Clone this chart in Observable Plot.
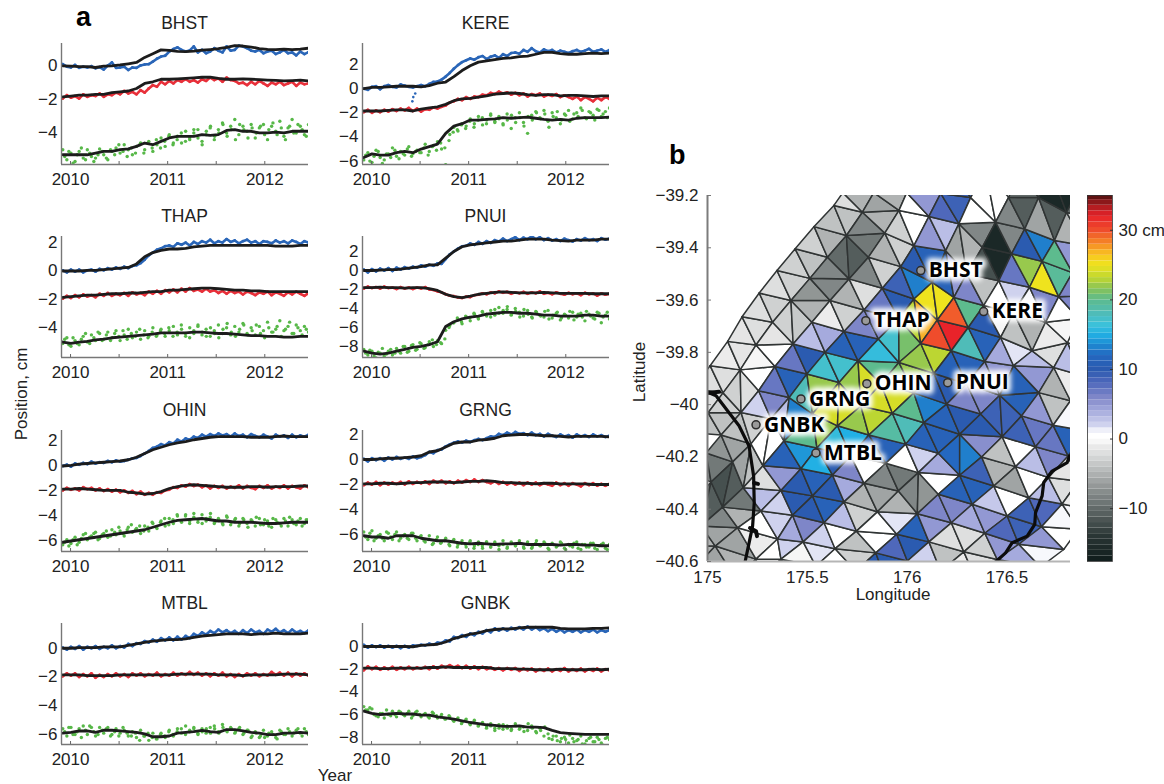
<!DOCTYPE html>
<html>
<head>
<meta charset="utf-8">
<script src="https://cdn.jsdelivr.net/npm/d3@7"></script>
<script src="https://cdn.jsdelivr.net/npm/@observablehq/plot@0.6"></script>
<style>
html,body{margin:0;padding:0;background:#fff;}
#page{position:relative;width:1164px;height:784px;overflow:hidden;font-family:"Liberation Sans",Arial,sans-serif;color:#222;}
#page svg{position:absolute;background:transparent;overflow:visible;}
.lbl{position:absolute;white-space:nowrap;font-size:17px;line-height:18px;}
.halo text{filter:blur(2.4px);}
.mesh path{filter:blur(0.35px);}
</style>
</head>
<body>
<div id="page"></div>
<script>
const stations = ["BHST","KERE","THAP","PNUI","OHIN","GRNG","MTBL","GNBK"];
const yDomains = [[-5.88,1.33],[-6.28,3.74],[-6.09,2.43],[-9.16,3.58],[-6.84,2.84],[-7.36,2.32],[-6.69,1.72],[-8.64,2.03]];
const yTicks = [[0,-2,-4],[2,0,-2,-4,-6],[2,0,-2,-4],[2,0,-2,-4,-6,-8],[2,0,-2,-4,-6],[2,0,-2,-4,-6],[0,-2,-4,-6],[0,-2,-4,-6,-8]];
const xTicks = [2010,2010.5,2011,2011.5,2012];

// black smoothed lines, roughly monthly, Dec 2009 - Jun 2012
const bhstBlueLine=[0,-.02,-.05,-.05,-.1,-.02,0,.05,.12,.2,.5,.72,.95,.92,.86,.85,.88,.93,.97,1.02,1.1,1.2,1.18,1.12,1.03,.98,.97,1,.97,1,1.05];
const bhstRedLine=[-1.85,-1.8,-1.75,-1.75,-1.7,-1.7,-1.6,-1.55,-1.5,-1.35,-1.05,-.95,-.8,-.8,-.78,-.75,-.72,-.68,-.68,-.75,-.8,-.8,-.78,-.8,-.82,-.85,-.87,-.9,-.88,-.85,-.9];
const bhstGreenLine=[-5.3,-5.3,-5.3,-5.3,-5.2,-5.1,-5.1,-5,-4.95,-4.8,-4.6,-4.7,-4.5,-4.3,-4.2,-4.2,-4.2,-4.1,-4.15,-4.1,-3.85,-3.8,-3.9,-3.9,-4,-4,-3.95,-4,-3.9,-3.9,-3.9];
const kereBlueLine=[0,.1,.1,.15,.2,.2,.2,.15,.25,.45,.55,1,1.5,1.9,2.2,2.3,2.4,2.5,2.55,2.65,2.7,2.85,3,3,2.9,2.85,2.85,2.9,2.95,2.9,2.95];
const kereRedLine=[-1.85,-1.85,-1.85,-1.8,-1.75,-1.75,-1.85,-1.7,-1.6,-1.5,-1.3,-1,-.85,-.8,-.7,-.6,-.45,-.4,-.35,-.4,-.5,-.55,-.5,-.5,-.6,-.55,-.55,-.6,-.65,-.6,-.6];
const kereGreenLine=[-5.7,-5.4,-5.5,-5.5,-5.3,-5.2,-5.3,-5,-4.8,-4.6,-3.7,-3.1,-2.9,-2.6,-2.6,-2.55,-2.5,-2.4,-2.45,-2.4,-2.35,-2.45,-2.55,-2.6,-2.55,-2.6,-2.45,-2.4,-2.4,-2.4,-2.35];
const thapBlueLine=[0,0,0,.05,.05,.1,.15,.2,.25,.5,1,1.3,1.45,1.55,1.55,1.6,1.7,1.75,1.8,1.8,1.8,1.8,1.8,1.8,1.8,1.8,1.75,1.75,1.75,1.8,1.8];
const thapRedLine=[-1.85,-1.8,-1.75,-1.7,-1.7,-1.65,-1.6,-1.6,-1.55,-1.55,-1.5,-1.45,-1.45,-1.35,-1.35,-1.3,-1.25,-1.2,-1.2,-1.25,-1.3,-1.35,-1.35,-1.4,-1.4,-1.45,-1.45,-1.45,-1.45,-1.45,-1.45];
const thapGreenLine=[-5,-5.1,-5,-4.95,-4.85,-4.8,-4.7,-4.65,-4.6,-4.55,-4.5,-4.45,-4.35,-4.35,-4.35,-4.35,-4.3,-4.3,-4.35,-4.4,-4.4,-4.45,-4.5,-4.55,-4.55,-4.6,-4.6,-4.65,-4.65,-4.6,-4.6];
const pnuiBlueLine=[0,0,.05,.1,.1,.2,.3,.4,.6,.6,1.3,2,2.5,2.7,2.8,2.9,3,3.1,3.1,3.2,3.3,3.3,3.3,3.2,3.15,3.1,3.2,3.2,3.2,3.3,3.3];
const pnuiRedLine=[-1.8,-1.8,-1.75,-1.8,-1.8,-1.85,-1.8,-1.8,-1.9,-2.1,-2.5,-2.75,-2.85,-2.7,-2.5,-2.4,-2.3,-2.25,-2.3,-2.35,-2.35,-2.35,-2.3,-2.35,-2.4,-2.4,-2.4,-2.4,-2.45,-2.45,-2.45];
const pnuiGreenLine=[-8.5,-8.7,-8.8,-8.7,-8.5,-8.3,-8.1,-8,-7.8,-7.5,-5.9,-5.4,-5.1,-4.9,-4.8,-4.6,-4.5,-4.4,-4.4,-4.5,-4.5,-4.6,-4.7,-4.7,-4.8,-4.8,-4.8,-4.7,-4.7,-4.8,-4.8];
const ohinBlueLine=[0,.05,.15,.2,.25,.3,.35,.4,.5,.7,1,1.3,1.5,1.7,1.85,1.95,2.1,2.2,2.3,2.35,2.35,2.35,2.35,2.3,2.3,2.3,2.35,2.4,2.35,2.35,2.35];
const ohinRedLine=[-1.85,-1.85,-1.8,-1.85,-1.9,-1.95,-1.95,-1.95,-2.1,-2.15,-2.25,-2.2,-2.05,-1.8,-1.65,-1.55,-1.5,-1.55,-1.6,-1.65,-1.7,-1.7,-1.7,-1.65,-1.65,-1.7,-1.65,-1.65,-1.65,-1.6,-1.6];
const ohinGreenLine=[-6.1,-6,-5.9,-5.8,-5.7,-5.6,-5.5,-5.4,-5.3,-5.2,-5.1,-4.9,-4.7,-4.5,-4.35,-4.3,-4.25,-4.2,-4.3,-4.4,-4.4,-4.5,-4.5,-4.5,-4.55,-4.6,-4.6,-4.55,-4.5,-4.5,-4.5];
const grngBlueLine=[0,0,.05,.1,.1,.15,.2,.3,.6,.7,1,1.3,1.4,1.4,1.55,1.6,1.7,1.9,1.95,2,2,1.95,1.9,1.9,1.85,1.8,1.85,1.85,1.85,1.85,1.8];
const grngRedLine=[-1.95,-1.95,-1.9,-1.9,-1.95,-1.9,-1.85,-1.85,-1.8,-1.8,-1.8,-1.85,-1.8,-1.75,-1.75,-1.7,-1.75,-1.85,-1.85,-1.9,-1.9,-1.95,-1.9,-1.9,-1.95,-1.95,-1.95,-1.95,-2,-2,-2];
const grngGreenLine=[-6.1,-6.2,-6.2,-6.3,-6.1,-6.1,-6.1,-6.3,-6.4,-6.5,-6.5,-6.6,-6.7,-6.75,-6.7,-6.75,-6.8,-6.75,-6.75,-6.7,-6.8,-6.8,-6.8,-6.8,-6.85,-6.8,-6.8,-6.85,-6.85,-6.9,-6.9];
const mtblBlueLine=[0,0,.05,.05,.05,.1,.1,.1,.2,.3,.4,.5,.55,.6,.6,.65,.75,.85,.9,.95,1,1,1,.95,1,1,1.05,1,1,1,1.05];
const mtblRedLine=[-1.85,-1.85,-1.85,-1.9,-1.9,-1.9,-1.9,-1.85,-1.85,-1.85,-1.85,-1.85,-1.85,-1.85,-1.8,-1.8,-1.8,-1.8,-1.8,-1.85,-1.85,-1.85,-1.9,-1.85,-1.85,-1.85,-1.85,-1.8,-1.8,-1.8,-1.85];
const mtblGreenLine=[-5.9,-5.85,-5.75,-5.75,-5.85,-5.7,-5.7,-5.75,-5.8,-5.85,-5.95,-6.15,-6.15,-6.1,-5.9,-5.85,-5.8,-5.7,-5.8,-5.85,-5.65,-5.65,-5.75,-5.85,-5.9,-6,-6,-5.9,-5.9,-5.85,-5.9];
const gnbkBlueLine=[0,0,0,0,0,0,-.02,.1,.15,.2,.4,.7,.9,1.1,1.2,1.4,1.5,1.55,1.55,1.65,1.7,1.7,1.7,1.7,1.6,1.55,1.55,1.55,1.6,1.6,1.65];
const gnbkRedLine=[-1.9,-1.9,-1.95,-1.95,-1.9,-1.9,-1.9,-1.9,-1.85,-1.85,-1.8,-1.85,-1.85,-1.85,-1.85,-1.85,-1.95,-1.95,-1.95,-2,-2,-2.05,-2.05,-2.05,-2,-2.05,-2.05,-2.05,-2,-2.05,-2];
const gnbkGreenLine=[-5.7,-5.9,-6,-5.95,-5.9,-5.95,-5.95,-6.05,-6.05,-6.2,-6.3,-6.4,-6.55,-6.7,-6.8,-6.9,-6.95,-7.05,-7.05,-7,-7.1,-7.1,-7.15,-7.4,-7.6,-7.65,-7.7,-7.75,-7.75,-7.75,-7.75];

// daily position dots, sampled every two weeks or so
const bhstBlueDots=[.1,-.05,-.1,.05,-.12,-.05,-.1,-.02,-.15,-.08,-.22,.02,.2,-.12,-.1,-.05,-.25,-.1,-.12,.02,.08,.1,.25,.42,.55,.6,.85,1,1.1,.95,.85,.92,1.15,.8,.95,.75,.85,1.05,.9,.8,1.15,.9,.95,1.2,1.15,1.05,.9,.85,.95,.75,.85,.9,.7,.8,.95,.75,.8,.62,.85,.7,.82];
const bhstRedDots=[-1.95,-1.75,-1.9,-1.8,-1.95,-1.7,-1.85,-1.75,-1.8,-1.65,-1.85,-1.7,-1.75,-1.6,-1.7,-1.5,-1.65,-1.55,-1.7,-1.45,-1.6,-1.35,-1.15,-1.25,-.95,-1.1,-.9,-1.05,-.85,-.95,-.8,-.95,-.85,-1,-.8,-.9,-.7,-.85,-.75,-.95,-.7,-.85,-.9,-1.05,-1,-1.15,-.95,-1.1,-.9,-1.05,-1.2,-1,-1.1,-.95,-1.15,-1.05,-.95,-1.2,-1,-1.1,-1.05];
const bhstGreenDots=[-5,-5.6,-5.2,-5.7,-5.1,-5.5,-5,-5.4,-5.5,-4.95,-5.3,-5.6,-5.1,-4.9,-5.2,-4.7,-5,-5.3,-4.8,-4.6,-5,-4.5,-5.1,-4.7,-4.3,-4.8,-4.1,-4.6,-4.2,-4.6,-3.9,-4.4,-4,-3.8,-4.5,-4.1,-3.7,-4.4,-3.8,-3.4,-4,-3.6,-3.2,-4.1,-3.6,-3.9,-3.5,-4.3,-3.7,-3.5,-4.4,-3.6,-3.9,-3.3,-4.2,-3.7,-3.2,-4,-3.6,-4.1,-3.5];
const bhstGreenMore=[-5.4,-5.1,-5.8,-5.3,-4.9,-5.6,-5.2,-5.7,-5.3,-5.1,-5.5,-5,-5.3,-4.7,-5.1,-5.4,-4.9,-5.2,-4.7,-5.2,-4.6,-4.9,-4.4,-4.9,-4.5,-4.2,-4.7,-4.4,-4,-4.5,-4.3,-3.8,-4.3,-4.7,-3.9,-3.6,-4.2,-4,-3.5,-4.2,-3.8,-4.4,-3.5,-3.8,-4.3,-3.7,-4,-3.6,-4.1,-3.8,-3.4,-4.1,-3.7,-4.4,-3.6,-4,-3.5,-3.8,-4.2,-3.7];
const kereBlueDots=[0,-.1,.15,.2,-.05,.2,.3,.15,.1,.35,.25,.15,.1,.2,.3,.2,.4,.55,.6,.75,1,1.3,1.65,1.95,2.2,2.35,2.5,2.4,2.6,2.7,2.45,2.65,2.75,2.55,2.85,2.7,2.95,3,2.9,3.2,3.05,3.35,3.1,3,3.25,3.1,3.2,3,3.15,3.05,2.95,3.1,3.2,3.05,3.15,3.3,3.05,3.15,3.25,3.05,3.2];
const kereBlueStrays=[[2010.42,-1.05],[2010.43,-.7],[2010.45,-.4]];
const kereRedDots=[-1.95,-1.75,-2,-1.8,-1.95,-1.75,-1.9,-1.7,-1.85,-1.65,-1.8,-1.6,-1.85,-1.65,-1.9,-1.7,-1.75,-1.55,-1.65,-1.5,-1.4,-1.15,-1.05,-.85,-.95,-.7,-.85,-.65,-.7,-.5,-.55,-.35,-.45,-.25,-.4,-.3,-.5,-.35,-.55,-.4,-.65,-.45,-.55,-.4,-.65,-.5,-.6,-.45,-.7,-.55,-.7,-.85,-.65,-.95,-.7,-.85,-1.05,-.75,-.95,-.7,-.85];
const kereGreenDots=[-5.9,-5.3,-6.1,-5.1,-5.7,-5.9,-5.4,-4.9,-5.6,-5.2,-5.5,-4.8,-5.4,-5.1,-5.3,-4.6,-5.2,-4.7,-4.4,-5,-6.3,-3.8,-3.2,-3.5,-2.9,-3.1,-2.5,-2.9,-2.3,-3,-2.6,-2.1,-2.8,-2.3,-2.9,-2.1,-3.3,-2.4,-2,-2.8,-3.7,-2.2,-1.9,-2.4,-1.8,-2.7,-2,-2.4,-2.9,-2.1,-1.8,-2.5,-2,-1.6,-2.4,-1.9,-2.2,-1.7,-2.3,-1.9,-1.6];
const kereGreenMore=[-5.5,-6,-5.6,-5.2,-6.2,-5.4,-5.7,-5.1,-5.8,-5.4,-5,-5.6,-5.2,-5.3,-4.9,-5.5,-4.8,-5.1,-4.5,-4.9,-4.3,-3.6,-3.4,-3,-3.3,-2.7,-3.2,-2.6,-2.4,-2.9,-2.2,-2.7,-2.5,-3,-2.6,-2.2,-2.8,-2.4,-3.1,-2.3,-2.6,-2,-2.5,-2.1,-3.2,-2.3,-1.9,-2.6,-2.2,-2.7,-2.1,-2.3,-1.8,-2.5,-2,-2.6,-1.8,-2.1,-2.4,-1.8];
const thapBlueDots=[.05,-.1,.1,-.05,.1,-.1,.05,.1,-.05,.15,.05,.2,.1,.25,.15,.3,.2,.35,.4,.55,.8,1.1,1.3,1.5,1.6,1.75,1.8,1.7,1.95,1.85,2,1.8,2.05,1.9,2.1,2,2.2,1.95,2.1,2,2.25,2.05,2.15,1.95,2.1,2.2,2,2.1,1.9,2.1,2.05,1.95,2.15,2,2.1,1.95,2.15,2.05,1.9,2.1,2];
const thapRedDots=[-1.95,-1.75,-1.9,-1.7,-1.85,-1.65,-1.8,-1.7,-1.85,-1.6,-1.75,-1.55,-1.75,-1.6,-1.7,-1.55,-1.75,-1.5,-1.65,-1.55,-1.7,-1.45,-1.6,-1.4,-1.6,-1.35,-1.5,-1.3,-1.5,-1.25,-1.45,-1.2,-1.4,-1.3,-1.45,-1.25,-1.45,-1.35,-1.55,-1.4,-1.6,-1.4,-1.55,-1.45,-1.65,-1.45,-1.55,-1.7,-1.5,-1.6,-1.45,-1.7,-1.5,-1.6,-1.75,-1.5,-1.65,-1.45,-1.6,-1.75,-1.55];
const thapGreenDots=[-5.1,-4.7,-5.3,-4.9,-5.2,-4.6,-5,-4.5,-4.9,-4.4,-4.8,-4.3,-4.7,-4.2,-4.9,-4.5,-4.1,-4.7,-4.3,-4.8,-4.2,-4.6,-4,-4.5,-4.1,-4.6,-4.2,-3.9,-4.5,-4.1,-4.6,-4,-4.4,-3.9,-4.5,-4.1,-4.6,-4.2,-3.8,-4.4,-4,-4.5,-3.9,-4.3,-3.7,-4.4,-4,-4.5,-3.9,-4.2,-3.6,-4.3,-4.1,-3.5,-4.2,-3.9,-4.4,-3.8,-4.2,-3.9,-4.3];
const thapGreenMore=[-4.8,-5.2,-4.7,-5.1,-4.8,-4.4,-5.1,-4.7,-4.3,-4.9,-4.5,-4.9,-4.4,-4.6,-4.2,-4.8,-4.4,-4.6,-4.1,-4.5,-4.7,-4.3,-4.6,-4.2,-4.4,-4,-4.6,-4.3,-3.8,-4.4,-4.7,-4.2,-3.8,-4.3,-4.6,-4,-4.4,-4.7,-4.1,-3.7,-4.3,-4.6,-4.1,-3.8,-4.5,-4.2,-3.8,-4.4,-4.7,-4,-4.3,-3.9,-4.6,-4.1,-3.6,-4.4,-4,-4.5,-4.1,-3.7];
const pnuiBlueDots=[.1,-.2,.15,-.1,.2,0,.25,-.05,.3,.1,.35,.2,.4,.3,.55,.4,.6,.5,.75,.7,1.2,1.7,2,2.3,2.55,2.6,2.85,2.7,3,2.8,3.1,2.9,3.2,3.05,3.35,3.1,3.3,3.5,3.2,3.45,3.3,3.6,3.3,3.5,3.2,3.4,3.15,3.3,3.1,3.35,3.2,3.05,3.3,3.15,3.4,3.2,3.3,3.1,3.4,3.25,3.35];
const pnuiRedDots=[-1.9,-1.7,-1.85,-1.75,-1.9,-1.7,-1.85,-1.8,-1.95,-1.75,-1.9,-1.8,-1.95,-1.8,-1.9,-1.75,-2,-2.05,-2.2,-2.3,-2.5,-2.65,-2.7,-2.85,-2.9,-2.75,-2.8,-2.6,-2.55,-2.4,-2.5,-2.3,-2.4,-2.2,-2.35,-2.25,-2.45,-2.3,-2.4,-2.25,-2.45,-2.3,-2.4,-2.2,-2.45,-2.35,-2.5,-2.3,-2.45,-2.55,-2.35,-2.5,-2.4,-2.6,-2.35,-2.5,-2.4,-2.65,-2.4,-2.55,-2.45];
const pnuiGreenDots=[-8.3,-8.9,-8.5,-9.2,-8.7,-9,-8.5,-8.9,-8.2,-8.7,-8,-8.5,-7.8,-8.3,-7.7,-8.1,-7.5,-8,-7.4,-7.7,-6.3,-5.8,-5.5,-5.2,-5.6,-4.9,-5.3,-4.6,-5.1,-4.4,-4.8,-4.2,-4.7,-3.9,-4.5,-4.1,-4.7,-4,-4.4,-4.8,-4.2,-4.9,-4.3,-4.7,-4.9,-4.2,-5,-4.5,-5.2,-4.6,-5,-4.4,-4.9,-4.5,-5.3,-4.6,-5,-4.4,-5.5,-4.7,-5.1];
const pnuiGreenMore=[-8.7,-8.4,-9,-8.6,-8.2,-8.8,-8.3,-8.7,-8.5,-8,-8.6,-7.9,-8.4,-7.6,-8.2,-7.8,-7.3,-7.8,-7.6,-7.2,-6,-5.5,-5,-5.4,-4.8,-5,-4.5,-5,-4.3,-4.6,-4.9,-4.1,-4.5,-4.2,-3.8,-4.6,-4.3,-4.9,-4.1,-4.6,-5,-4.4,-4.8,-4.3,-5.1,-4.7,-4.4,-5,-4.7,-4.3,-5.2,-4.6,-4.9,-4.3,-4.8,-5.1,-4.5,-4.9,-4.4,-5];
const ohinBlueDots=[0,.1,-.05,.2,.1,.25,.15,.35,.2,.3,.25,.4,.3,.45,.35,.4,.5,.6,.65,.8,1,1.2,1.45,1.55,1.75,1.65,1.9,1.8,2.1,1.95,2.2,2.1,2.35,2.25,2.5,2.35,2.55,2.4,2.6,2.45,2.55,2.35,2.6,2.4,2.5,2.3,2.55,2.4,2.3,2.5,2.35,2.2,2.5,2.35,2.45,2.25,2.5,2.3,2.45,2.35,2.5];
const ohinRedDots=[-1.95,-1.75,-1.9,-1.8,-1.95,-1.7,-1.85,-1.75,-1.95,-1.8,-2,-1.85,-2.05,-1.9,-2.1,-1.95,-2.15,-2,-2.25,-2.05,-2.3,-2.15,-2.3,-2.1,-2.15,-1.95,-1.9,-1.7,-1.75,-1.55,-1.65,-1.45,-1.6,-1.5,-1.7,-1.55,-1.8,-1.6,-1.75,-1.6,-1.8,-1.65,-1.75,-1.55,-1.8,-1.6,-1.75,-1.85,-1.6,-1.75,-1.55,-1.8,-1.65,-1.75,-1.55,-1.8,-1.6,-1.7,-1.8,-1.55,-1.7];
const ohinGreenDots=[-6.3,-5.9,-6.2,-5.7,-6.1,-5.5,-5.9,-5.6,-5.3,-5.8,-5.4,-5.7,-5.1,-5.5,-5.2,-5.6,-4.9,-5.3,-5,-5.4,-4.8,-5.2,-4.6,-5,-4.4,-4.8,-4.2,-4.6,-4,-4.5,-3.9,-4.4,-4.1,-4.5,-3.9,-4.4,-4.1,-4.6,-4.2,-4.6,-4,-4.7,-4.3,-4.8,-4.2,-4.6,-4.3,-4.8,-4.2,-4.7,-4.4,-4.9,-4.3,-4.6,-4.2,-4.8,-4.3,-4.7,-4.2,-4.6,-4.3];
const ohinGreenMore=[-6.1,-6.4,-5.9,-6.3,-5.8,-5.4,-5.7,-5.4,-5.9,-5.5,-5.2,-5.6,-5.3,-4.9,-5.4,-5.1,-4.7,-5.1,-4.8,-5.2,-4.9,-4.5,-4.9,-4.5,-4.2,-4.7,-4.3,-3.9,-4.4,-4,-4.6,-3.8,-4.3,-4.6,-4.2,-3.8,-4.5,-4.3,-4.7,-4.1,-4.5,-4.2,-4.6,-4.3,-4.9,-4.4,-4.1,-4.7,-4.3,-4.8,-4.2,-4.5,-4.8,-4.4,-4.1,-4.6,-4.4,-4.8,-4.3,-4.5];
const grngBlueDots=[.05,-.15,.1,-.05,.1,-.1,.15,0,.2,.05,.15,.05,.25,.1,.2,.35,.6,.5,.75,.8,1.05,1.2,1.35,1.45,1.35,1.5,1.4,1.55,1.65,1.55,1.7,1.85,1.8,2.05,1.95,2.15,2,2.2,2.05,2.1,1.95,2.15,1.95,2.05,1.85,2.05,1.9,1.8,2,1.85,1.95,1.75,2,1.85,1.95,1.8,2,1.85,1.95,1.8,1.9];
const grngRedDots=[-2.05,-1.85,-2,-1.8,-2.05,-1.85,-2,-1.85,-1.95,-1.8,-2,-1.75,-1.95,-1.8,-1.9,-1.75,-1.95,-1.7,-1.85,-1.7,-1.9,-1.75,-1.9,-1.7,-1.85,-1.65,-1.8,-1.6,-1.8,-1.65,-1.8,-1.9,-1.75,-1.95,-1.8,-2,-1.85,-2,-1.85,-2.05,-1.85,-2,-1.85,-2.05,-1.9,-2,-2.1,-1.85,-2.05,-1.9,-2.1,-1.9,-2,-2.15,-1.9,-2.05,-1.9,-2.1,-1.95,-2.1,-1.95];
const grngGreenDots=[-5.8,-6.4,-5.7,-6.3,-6,-6.5,-5.9,-6.4,-5.8,-6.3,-6,-6.4,-5.9,-6.5,-6.1,-6.6,-6.1,-6.7,-6.2,-6.6,-6.3,-6.9,-6.4,-6.8,-6.5,-7,-6.5,-6.9,-6.6,-7.1,-6.6,-7,-6.7,-6.9,-6.5,-7.1,-6.6,-6.9,-6.5,-7,-6.6,-7.1,-6.7,-6.9,-6.6,-7.1,-6.7,-7,-6.6,-7.1,-6.8,-7,-6.6,-7.2,-6.8,-7,-6.7,-7.2,-6.8,-7.1,-6.8];
const grngGreenMore=[-6.2,-5.9,-6.5,-6.1,-6.3,-5.8,-6.2,-6,-6.5,-6.1,-6.3,-5.9,-6.3,-6.2,-6.5,-6.4,-6.8,-6.4,-6.7,-6.5,-6.8,-6.5,-7,-6.7,-6.8,-6.6,-7.1,-6.8,-6.9,-6.6,-7,-6.6,-7.2,-6.8,-7,-6.7,-6.9,-6.7,-7.1,-6.8,-7,-6.5,-6.9,-6.7,-7.2,-6.8,-6.9,-6.7,-7.2,-6.9,-6.7,-7.1,-6.8,-7,-6.7,-7.1,-6.9,-6.7,-7.2,-6.9];
const mtblBlueDots=[.05,-.1,.1,-.05,.15,-.1,.1,0,.15,-.05,.1,0,.2,0,.15,.05,.3,.15,.35,.3,.5,.4,.6,.45,.7,.55,.75,.55,.8,.6,.85,.7,1,.85,1.1,.95,1.2,1.05,1.3,1.1,1.25,1.05,1.2,1,1.25,1.05,1.3,1.1,1.2,1,1.3,1.15,1.35,1.1,1.25,1.05,1.3,1.1,1.2,1.05,1.25];
const mtblRedDots=[-1.95,-1.75,-1.9,-1.75,-2,-1.8,-1.95,-1.75,-2.05,-1.85,-2,-1.8,-1.95,-1.75,-1.95,-1.8,-2,-1.75,-1.9,-1.75,-1.95,-1.8,-1.9,-1.7,-1.95,-1.8,-1.9,-1.7,-1.9,-1.75,-1.85,-1.65,-1.85,-1.7,-1.9,-1.75,-1.95,-1.75,-1.9,-1.7,-1.95,-1.8,-2,-1.8,-1.95,-1.75,-1.9,-1.75,-1.95,-1.8,-1.9,-1.65,-1.85,-1.7,-1.9,-1.7,-1.95,-1.75,-1.9,-1.75,-1.9];
const mtblGreenDots=[-5.6,-6.1,-5.5,-6,-5.6,-5.4,-6,-5.5,-6.1,-5.5,-5.9,-5.5,-6,-5.6,-5.9,-5.7,-6.1,-5.8,-6.2,-5.7,-6.1,-6.4,-5.9,-6.3,-5.9,-6.2,-5.7,-6.1,-5.6,-5.9,-5.4,-5.8,-5.5,-5.9,-5.6,-5.9,-5.5,-5.4,-5.8,-5.3,-5.7,-5.5,-5.9,-5.6,-6,-5.7,-6.2,-5.8,-6.2,-5.7,-6.1,-5.8,-6.2,-5.7,-6,-5.6,-6.1,-5.7,-5.9,-5.6,-6];
const mtblGreenMore=[-5.8,-5.5,-6,-5.8,-6.2,-5.7,-5.4,-5.8,-6,-5.7,-5.6,-6.1,-5.8,-6.1,-5.5,-5.9,-6.1,-5.9,-6.4,-6.1,-5.9,-6.2,-6.3,-6,-6.1,-5.8,-6,-5.8,-5.6,-6,-5.7,-5.6,-6,-5.8,-5.6,-5.9,-5.6,-5.9,-5.5,-5.8,-5.6,-5.8,-5.5,-5.9,-5.7,-6.1,-5.9,-6.1,-6.2,-5.9,-6,-6.3,-5.8,-6,-5.8,-5.9,-5.6,-6.1,-5.8,-5.6];
const gnbkBlueDots=[.15,-.1,.1,-.05,.1,-.1,.05,-.1,.05,-.15,.05,-.1,.1,.05,.15,.1,.25,.15,.35,.3,.55,.45,.85,.75,1,.85,1.15,1,1.3,1.15,1.45,1.25,1.6,1.4,1.6,1.4,1.65,1.5,1.7,1.5,1.75,1.5,1.7,1.45,1.6,1.35,1.55,1.3,1.5,1.25,1.45,1.3,1.5,1.25,1.45,1.3,1.5,1.25,1.45,1.3,1.45];
const gnbkRedDots=[-2.1,-1.75,-2,-1.8,-2.05,-1.85,-2,-1.8,-2.05,-1.85,-2,-1.8,-2,-1.85,-1.95,-1.8,-2,-1.75,-1.95,-1.7,-1.85,-1.65,-1.85,-1.7,-1.9,-1.7,-1.95,-1.75,-2,-1.8,-2,-1.85,-2.05,-1.9,-2.1,-1.9,-2.05,-1.9,-2.15,-1.95,-2.1,-1.95,-2.2,-2,-2.15,-1.95,-2.2,-2,-2.15,-1.9,-2.2,-2,-2.15,-1.95,-2.2,-2,-2.15,-1.95,-2.2,-2,-2.1];
const gnbkGreenDots=[-5.3,-5.6,-5.5,-6.1,-5.9,-6.3,-6,-5.7,-6.2,-5.8,-6.1,-5.7,-6.1,-5.7,-6.2,-5.9,-6.3,-5.9,-6.3,-6,-6.4,-6.2,-6.6,-6.3,-6.7,-6.4,-6.9,-6.5,-7,-6.7,-7.1,-6.8,-7.2,-6.9,-7.3,-7,-7.4,-6.8,-7.3,-7.1,-7.4,-7,-7.5,-7.2,-7.9,-7.7,-8.2,-7.9,-8.4,-8,-8.5,-8.1,-8.3,-7.9,-8.6,-8.1,-8.4,-8,-8.5,-8.1,-8.2];
const gnbkGreenMore=[-5.6,-5.4,-6,-6.2,-5.9,-5.6,-6.1,-6,-5.7,-6,-5.9,-6.3,-5.8,-6,-6,-6.2,-5.8,-6.1,-6.2,-6.4,-6.1,-6.5,-6.4,-6.8,-6.5,-6.8,-6.7,-7,-6.8,-7.2,-7,-7.4,-7.2,-6.9,-7.2,-7.3,-7,-7.2,-7.5,-6.8,-7.2,-7.6,-7.4,-7.1,-8.1,-7.9,-8.3,-8.1,-8.2,-7.8,-8.4,-8.2,-8.6,-8.3,-8,-8.4,-8.2,-8.7,-8,-8.3];

const lineSets = {BHST:[bhstBlueLine,bhstRedLine,bhstGreenLine],KERE:[kereBlueLine,kereRedLine,kereGreenLine],THAP:[thapBlueLine,thapRedLine,thapGreenLine],PNUI:[pnuiBlueLine,pnuiRedLine,pnuiGreenLine],OHIN:[ohinBlueLine,ohinRedLine,ohinGreenLine],GRNG:[grngBlueLine,grngRedLine,grngGreenLine],MTBL:[mtblBlueLine,mtblRedLine,mtblGreenLine],GNBK:[gnbkBlueLine,gnbkRedLine,gnbkGreenLine]};
const dotSets = {BHST:[bhstBlueDots,bhstRedDots,bhstGreenDots],KERE:[kereBlueDots,kereRedDots,kereGreenDots],THAP:[thapBlueDots,thapRedDots,thapGreenDots],PNUI:[pnuiBlueDots,pnuiRedDots,pnuiGreenDots],OHIN:[ohinBlueDots,ohinRedDots,ohinGreenDots],GRNG:[grngBlueDots,grngRedDots,grngGreenDots],MTBL:[mtblBlueDots,mtblRedDots,mtblGreenDots],GNBK:[gnbkBlueDots,gnbkRedDots,gnbkGreenDots]};
const greenMore = {BHST:bhstGreenMore,KERE:kereGreenMore,THAP:thapGreenMore,PNUI:pnuiGreenMore,OHIN:ohinGreenMore,GRNG:grngGreenMore,MTBL:mtblGreenMore,GNBK:gnbkGreenMore};
const seriesColors = ["#2a66b8","#e8303a","#57b848"];
const timeStart = 2009.92, timeEnd = 2012.45;

// mesh: node rows along SW-NE diagonals, in degrees, with first row index of each
const meshStart=[-2,-3,-5,-6,-8,-8,-8,-8,-8,-7,-7,-6,-6,-6];
const meshLon=[
[174.848,174.928,175.013,175.101,175.173,175.259,175.348,175.439,175.534,175.633,175.678],
[174.918,175.003,175.078,175.164,175.243,175.326,175.418,175.513,175.601,175.696,175.776,175.833],
[174.908,174.993,175.068,175.168,175.256,175.338,175.429,175.523,175.614,175.709,175.806,175.888,175.959,175.998],
[174.918,175.018,175.126,175.218,175.318,175.409,175.498,175.589,175.684,175.784,175.876,175.968,176.034,176.109,176.168,176.228],
[174.768,174.868,174.968,175.076,175.179,175.278,175.383,175.526,175.659,175.754,175.856,175.958,176.034,176.126,176.193,176.259,176.318,176.393],
[174.943,175.039,175.151,175.268,175.368,175.468,175.548,175.651,175.768,175.868,175.959,176.068,176.151,176.234,176.298,176.376,176.443,176.508,176.568],
[175.143,175.243,175.351,175.426,175.526,175.626,175.718,175.808,175.926,176.033,176.134,176.221,176.306,176.383,176.459,176.523,176.589,176.658,176.718],
[175.268,175.368,175.479,175.584,175.684,175.784,175.893,175.993,176.084,176.198,176.298,176.389,176.468,176.533,176.613,176.676,176.738,176.798,176.868],
[175.443,175.543,175.639,175.746,175.851,175.956,176.056,176.156,176.263,176.368,176.464,176.533,176.626,176.693,176.759,176.828,176.893,176.958,177.018],
[175.743,175.843,175.948,176.051,176.156,176.263,176.373,176.476,176.573,176.659,176.734,176.803,176.858,176.918,176.993],
[175.893,176.001,176.109,176.221,176.326,176.434,176.543,176.643,176.731,176.818,176.878,176.943],
[176.168,176.284,176.389,176.501,176.609,176.708,176.806,176.893,176.968],
[176.343,176.451,176.559,176.673,176.776,176.858,176.943],
[176.568,176.668,176.784,176.858,176.943,177.018]];
const meshLat=[
[-40.024,-39.939,-39.851,-39.758,-39.664,-39.573,-39.487,-39.404,-39.319,-39.238,-39.189],
[-40.108,-40.031,-39.955,-39.867,-39.772,-39.685,-39.602,-39.517,-39.436,-39.353,-39.264,-39.189],
[-40.261,-40.185,-40.116,-40.030,-39.947,-39.854,-39.768,-39.685,-39.602,-39.519,-39.436,-39.344,-39.257,-39.189],
[-40.380,-40.296,-40.219,-40.150,-40.054,-39.973,-39.883,-39.800,-39.720,-39.638,-39.555,-39.472,-39.392,-39.280,-39.192,-39.104],
[-40.618,-40.541,-40.464,-40.392,-40.318,-40.234,-40.139,-40.035,-39.915,-39.832,-39.749,-39.671,-39.596,-39.532,-39.411,-39.308,-39.208,-39.104],
[-40.618,-40.541,-40.471,-40.407,-40.328,-40.245,-40.166,-40.081,-40.005,-39.920,-39.839,-39.766,-39.676,-39.590,-39.499,-39.398,-39.302,-39.207,-39.104],
[-40.667,-40.591,-40.514,-40.423,-40.349,-40.269,-40.196,-40.116,-40.033,-39.955,-39.881,-39.794,-39.705,-39.621,-39.526,-39.423,-39.328,-39.208,-39.104],
[-40.667,-40.591,-40.525,-40.452,-40.372,-40.301,-40.224,-40.151,-40.069,-39.998,-39.920,-39.835,-39.743,-39.648,-39.551,-39.452,-39.372,-39.265,-39.162],
[-40.687,-40.618,-40.551,-40.484,-40.410,-40.330,-40.260,-40.186,-40.113,-40.036,-39.964,-39.851,-39.794,-39.685,-39.587,-39.495,-39.392,-39.288,-39.181],
[-40.637,-40.567,-40.496,-40.417,-40.343,-40.270,-40.200,-40.123,-40.043,-39.954,-39.858,-39.763,-39.671,-39.583,-39.487],
[-40.675,-40.598,-40.525,-40.452,-40.381,-40.311,-40.237,-40.161,-40.079,-39.985,-39.890,-39.794],
[-40.637,-40.563,-40.492,-40.426,-40.356,-40.279,-40.196,-40.100,-40.005],
[-40.667,-40.592,-40.534,-40.467,-40.380,-40.292,-40.215],
[-40.694,-40.621,-40.554,-40.476,-40.407,-40.323]];
// displacement (cm) of the two triangles in each lattice cell, strip by strip
const meshValues=[
[-1,-2,-2,-2,-1,-1.5,-1.5,-2,-2,-3,-2,-3,-3,-4,-3,-5,-4,-4,-2,-5],
[-4,-4,-3,-3,-2,.5,-.5,.5,-1.5,-3,-3.5,-5,-7,-8,-8,-10,-11,-9,-8,-5,-6,-5],
[-8,-9,-7,-6,-4,-3,2,6,7,11,7,10,3,4,-1,-3,-5,-2,-8,-3,-5,-3,-3,.5,.5,5],
[-10,-11,-12,-11,-6,-4,0,.5,3,13,18,22,17,17,11,11,6,6,7,10,9,13,10,11,5,3,8,9,9,9],
[-5,-5,-5,-6,-8,-5,-9,3,-2,5,11,14,20,22,24,24,22,24,20,16,17,21,23,27,25,25,11,5,-6,-5,-8,.5,.5,.5],
[-6,-5,-6,-1,.5,2,2,10,10,11,15,10,16,15,22,23,24,24,21,22,22,23,30,32,29.5,20,6,-4,-12,-16,-16,-8,-8,-11,-10,-10],
[-2,-1,.5,2,4,6,10,11,10,4,6,.5,11,11,19,18,20,13,10,10,11,11,18,11,10,-.5,.5,2,7,22,10,13,-6,-11,-16,-16],
[-1,-2,-.5,1.5,2,.5,3,-3,-5,-6,-8,-9,.5,2,11,11,11,10,6,6,5,5,4,1.5,-4,-5,1,6,25,19.5,20,5,-5,-3,-10,-10],
[.5,-3,-4,.5,.5,1.5,-5,-8,-7,.5,4,12,13,5.5,10,9,9,11,11,5,3,-2,-1,-.5,.5,6,6,6],
[10,10,8,10,11,5,6,6,11,11,9,-5,-4,.5,9,7,5,-4,-5,-1,3,3],
[2,-4,-2,-2,4,5,2.5,.5,-6,.5,3,6,7,11,1,1],
[-1,-2,-3,5,8,9,9,8,3,-2,-1.5,-1],
[4,4,4,1,5,.5,1,1,-1,-1]];
// cells whose shared edge runs the other way: [strip, row]
const rowFlips=[[1,-1],[1,2],[1,5],[8,-3],[8,-1],[8,1]];
const thirdFlips=[[4,1],[4,7]];

const coastWest=[[175.008,-39.955],[175.043,-39.966],[175.108,-40.031],[175.158,-40.081],[175.208,-40.158],[175.231,-40.273],[175.234,-40.376],[175.226,-40.464],[175.208,-40.530],[175.189,-40.598]];
const coastStubs=[[[175.003,-39.955],[175.058,-39.951]],[[175.233,-40.300],[175.253,-40.303]],[[175.213,-40.472],[175.243,-40.484],[175.248,-40.503]]];
const coastEast=[[176.813,-40.196],[176.801,-40.222],[176.726,-40.254],[176.684,-40.298],[176.676,-40.349],[176.643,-40.413],[176.639,-40.458],[176.601,-40.503],[176.526,-40.528],[176.493,-40.567],[176.451,-40.596]];

const gpsNames=["BHST","KERE","THAP","OHIN","PNUI","GRNG","GNBK","MTBL"];
const gpsLon=[176.068,176.383,175.793,175.798,176.203,175.468,175.243,175.543];
const gpsLat=[-39.487,-39.644,-39.679,-39.920,-39.916,-39.978,-40.077,-40.185];

const colorStops=[-17.6,-14,-10,-6,-3,-1,0,.8,2,4,6,8,10,12,13.5,15,16.5,18,20,21.5,23,25,26.5,28,30,32,33.5,35];
const colorRamp=["#0f1c1b","#2a3635","#626a69","#a0a4a4","#cfd1d1","#ececec","#ffffff","#ffffff","#cfd2ee","#a5aadd","#7e86c8","#4f68bb","#2b5bb0","#2468c0","#1e8ad2","#22b0e4","#3ec2d8","#4fbcb8","#5dbb8e","#86c35a","#bcd632","#efe31e","#f9c221","#f58a26","#ef4c2c","#e8232a","#a81c1f","#551010"];
const colorTicks=[30,20,10,0,-10];
const latTicks=[-39.2,-39.4,-39.6,-39.8,-40,-40.2,-40.4,-40.6];
const lonTicks=[175,175.5,176,176.5];

const page=document.getElementById("page");
const FONT='"Liberation Sans",Arial,sans-serif';
const minus=d=>String(d).replace("-","\u2212");
const colorScale={type:"linear",domain:colorStops,range:colorRamp,interpolate:"rgb"};

function place(svg,left,top){svg.style.left=left+"px";svg.style.top=top+"px";page.appendChild(svg);}
function label(text,left,top,extra){
  const d=document.createElement("div");d.className="lbl";d.textContent=text;
  d.style.left=left+"px";d.style.top=top+"px";
  if(extra)Object.assign(d.style,extra);
  page.appendChild(d);return d;
}

const colLeft=[61,362], rowTop=[43,236,430,623], innerW=247, innerH=121;
const xDomain=[2009.907,2012.45];
const timed=(vals,shift)=>vals.map((v,k)=>({t:timeStart+shift+k*(timeEnd-timeStart)/(vals.length-1),v}));

stations.forEach((name,i)=>{
  const col=i%2,row=Math.floor(i/2),yd=yDomains[i];
  const marks=[];
  dotSets[name].forEach((vals,s)=>{
    const pts=timed(vals,0);
    if(s<2)marks.push(Plot.line(pts,{x:"t",y:"v",stroke:seriesColors[s],strokeWidth:2.6,clip:true}));
    marks.push(Plot.dot(pts,{x:"t",y:"v",r:s<2?1.4:1.7,fill:seriesColors[s],clip:true}));
  });
  marks.push(Plot.dot(timed(greenMore[name],0.02),{x:"t",y:"v",r:1.7,fill:seriesColors[2],clip:true}));
  if(name==="KERE")marks.push(Plot.dot(kereBlueStrays,{x:d=>d[0],y:d=>d[1],r:1.3,fill:seriesColors[0],clip:true}));
  lineSets[name].forEach(vals=>{
    marks.push(Plot.line(timed(vals,0),{x:"t",y:"v",stroke:"#1c1c1c",strokeWidth:2.8,clip:true}));
  });
  marks.push(Plot.ruleX([xDomain[0]],{stroke:"#777",strokeWidth:1.4}));
  marks.push(Plot.ruleY([yd[0]],{stroke:"#777",strokeWidth:1.4}));
  marks.push(Plot.axisX(xTicks,{tickSize:-3,tickPadding:11,stroke:"#666",fontSize:17,fill:"#222",label:null,
    tickFormat:d=>Number.isInteger(d)?String(d):""}));
  marks.push(Plot.axisY(yTicks[i],{tickSize:0,tickPadding:4,fontSize:17,fill:"#222",label:null,tickFormat:minus}));
  const svg=Plot.plot({width:innerW+42,height:innerH+30,marginLeft:40,marginRight:2,marginTop:3,marginBottom:27,
    x:{domain:xDomain},y:{domain:yd},style:{fontFamily:FONT,background:"transparent"},marks});
  place(svg,colLeft[col]-40,rowTop[row]-3);
  label(name,colLeft[col]+123.5,rowTop[row]-29,{transform:"translateX(-50%)",fontSize:"17.5px"});
});

// mesh triangles
const tris=[];
meshValues.forEach((vals,k)=>{
  const s0=meshStart[k],s1=meshStart[k+1];
  const node=(c,j)=>{const st=meshStart[c];return [meshLon[c][j-st],meshLat[c][j-st]];};
  const jEnd=Math.min(s0+meshLon[k].length,s1+meshLon[k+1].length)-1;
  let n=0;const local=[];
  for(let j=Math.max(s0,s1);j<jEnd;j++){
    let L=[node(k,j),node(k+1,j),node(k,j+1)],U=[node(k,j+1),node(k+1,j),node(k+1,j+1)];
    if(thirdFlips.some(f=>f[0]===k&&f[1]===j)){
      L=[node(k,j),node(k+1,j),node(k+1,j+1)];U=[node(k,j),node(k+1,j+1),node(k,j+1)];
    }
    local.push({pts:L,v:vals[n++],j,kind:"L"});
    local.push({pts:U,v:vals[n++],j,kind:"U"});
  }
  rowFlips.filter(f=>f[0]===k).forEach(([_,j])=>{
    const up=local.find(t=>t.j===j-1&&t.kind==="U"),lo=local.find(t=>t.j===j&&t.kind==="L");
    if(up&&lo){
      up.pts=[node(k,j),node(k+1,j-1),node(k,j+1)];
      lo.pts=[node(k,j+1),node(k+1,j-1),node(k+1,j)];
    }
  });
  tris.push(...local);
});
const triRows=[];
tris.forEach((t,id)=>{
  [...t.pts,t.pts[0]].forEach(p=>triRows.push({id,lon:p[0],lat:p[1],v:t.v===undefined?.5:t.v}));
});
const gps=gpsNames.map((n,i)=>({n,lon:gpsLon[i],lat:gpsLat[i]}));
const xMap=[175,176.818],yMap=[-40.6,-39.2];
const lineOf=(pts,w)=>Plot.line(pts,{x:d=>d[0],y:d=>d[1],stroke:"#0c0c0c",strokeWidth:w,clip:true});
const mapSvg=Plot.plot({width:438,height:406,marginLeft:70,marginRight:5,marginTop:10,marginBottom:30,
  x:{domain:xMap},y:{domain:yMap},color:colorScale,style:{fontFamily:FONT,background:"transparent"},
  marks:[
    Plot.line(triRows,{x:"lon",y:"lat",z:"id",fill:"v",stroke:"#303434",strokeWidth:1.5,clip:true,className:"mesh"}),
    lineOf(coastWest,3.2),lineOf(coastEast,3.2),
    ...coastStubs.map(s=>lineOf(s,4)),
    Plot.ruleX([xMap[0]],{stroke:"#7c7c7c",strokeWidth:2}),
    Plot.ruleY([yMap[0]],{stroke:"#b5b5b5",strokeWidth:2}),
    Plot.axisY(latTicks,{tickSize:-4,tickPadding:13,stroke:"#777",fontSize:17,fill:"#222",label:null,tickFormat:minus}),
    Plot.axisX(lonTicks,{tickSize:0,tickPadding:9,fontSize:17,fill:"#222",label:null,tickFormat:d=>String(d)}),
    Plot.text(gps,{x:"lon",y:"lat",text:"n",textAnchor:"start",dx:8,fontSize:21,fontWeight:700,fontFamily:'"Open Sans"',
      fill:"#fff",stroke:"#fff",strokeWidth:8,className:"halo"}),
    Plot.text(gps,{x:"lon",y:"lat",text:"n",textAnchor:"start",dx:8,fontSize:21,fontWeight:700,fontFamily:'"Open Sans"',fill:"#000"}),
    Plot.dot(gps,{x:"lon",y:"lat",r:4,fill:"#9a9a9a",stroke:"#2c2c2c",strokeWidth:1.5})
  ]});
place(mapSvg,637,185);

// colour bar
const barCells=d3.range(-17.6,35,0.8).map(v=>({v0:v,v1:Math.min(v+0.8,35)}));
const barSvg=Plot.plot({width:90,height:376,marginLeft:5,marginRight:60,marginTop:5,marginBottom:5,
  x:{domain:[0,1],axis:null},y:{domain:[-17.6,35]},color:colorScale,style:{fontFamily:FONT,background:"transparent"},
  marks:[
    Plot.rect(barCells,{x1:0,x2:1,y1:"v0",y2:"v1",fill:d=>d.v0+0.4}),
    Plot.frame({stroke:"#333",strokeWidth:0.8}),
    Plot.axisY(colorTicks,{anchor:"right",tickSize:-3,tickPadding:9,stroke:"#333",fontSize:17,fill:"#222",label:null,
      tickFormat:d=>d===30?"30 cm":minus(d)})
  ]});
place(barSvg,1082,190);

label("a",76,2,{fontSize:"27px",lineHeight:"30px",fontWeight:"700",color:"#000"});
label("b",669,140,{fontSize:"27px",lineHeight:"30px",fontWeight:"700",color:"#000"});
label("Position, cm",22,394,{transform:"translate(-50%,-50%) rotate(-90deg)"});
label("Year",335,767,{transform:"translateX(-50%)"});
label("Latitude",640,372,{transform:"translate(-50%,-50%) rotate(-90deg)"});
label("Longitude",893,586,{transform:"translateX(-50%)"});
</script>
</body>
</html>
